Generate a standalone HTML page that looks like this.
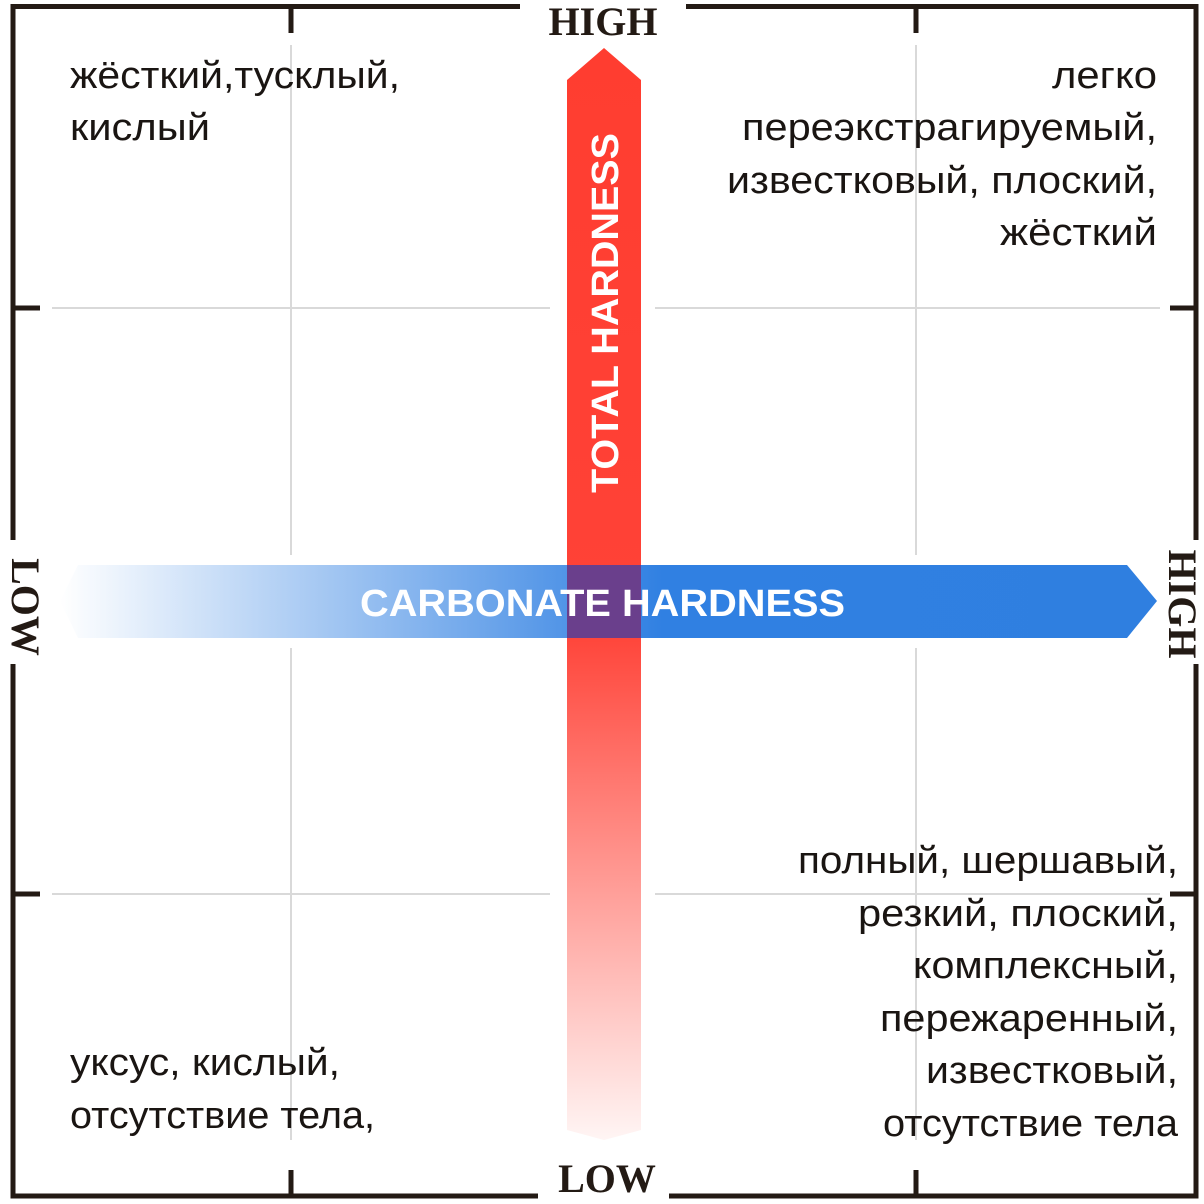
<!DOCTYPE html>
<html><head><meta charset="utf-8"><style>
html,body{margin:0;padding:0;background:#fff;}
svg{display:block;}
.t{font-family:"Liberation Sans",sans-serif;font-size:38px;fill:#1a1512;}
.ax{font-family:"Liberation Serif",serif;font-weight:bold;font-size:40px;fill:#231a14;}
</style></head><body>
<svg width="1204" height="1204" viewBox="0 0 1204 1204">
<defs>
<linearGradient id="red" gradientUnits="userSpaceOnUse" x1="0" y1="48" x2="0" y2="1140">
<stop offset="0" stop-color="#ff3d30"/><stop offset="0.53" stop-color="#ff4237"/><stop offset="1" stop-color="#fff5f4"/>
</linearGradient>
<linearGradient id="blue" gradientUnits="userSpaceOnUse" x1="60" y1="0" x2="1157" y2="0">
<stop offset="0" stop-color="#ffffff"/><stop offset="0.55" stop-color="#3080e2"/><stop offset="1" stop-color="#2f7fe0"/>
</linearGradient>
</defs>
<g stroke="#d9d9d9" stroke-width="2">
<line x1="291" y1="45" x2="291" y2="555"/><line x1="291" y1="648" x2="291" y2="1140"/>
<line x1="916" y1="45" x2="916" y2="555"/><line x1="916" y1="648" x2="916" y2="1140"/>
<line x1="52" y1="308" x2="550" y2="308"/><line x1="655" y1="308" x2="1160" y2="308"/>
<line x1="52" y1="894" x2="550" y2="894"/><line x1="655" y1="894" x2="1160" y2="894"/>
</g>
<g stroke="#231a14" stroke-width="5" fill="none">
<polyline points="520,6.5 13,6.5 13,540"/>
<polyline points="686,6.5 1196,6.5 1196,540"/>
<polyline points="13,664 13,1196 538,1196"/>
<polyline points="669,1196 1196,1196 1196,664"/>
<line x1="291" y1="6" x2="291" y2="33"/><line x1="916" y1="6" x2="916" y2="33"/>
<line x1="291" y1="1170" x2="291" y2="1196"/><line x1="916" y1="1170" x2="916" y2="1196"/>
<line x1="13" y1="308" x2="40" y2="308"/><line x1="13" y1="894" x2="40" y2="894"/>
<line x1="1170" y1="308" x2="1196" y2="308"/><line x1="1170" y1="894" x2="1196" y2="894"/>
</g>
<text class="ax" x="603" y="35" text-anchor="middle">HIGH</text>
<text class="ax" x="607" y="1192" text-anchor="middle">LOW</text>
<text class="ax" transform="translate(12,607) rotate(90)" text-anchor="middle">LOW</text>
<text class="ax" transform="translate(1169,604) rotate(90)" text-anchor="middle">HIGH</text>
<polygon fill="url(#red)" points="567,80 604,48 641,80 641,1130 604,1140 567,1130"/>
<polygon fill="url(#blue)" points="78,565 1127,565 1157,601 1127,638 78,638 60,601"/>
<rect x="567" y="565" width="74" height="73" fill="#6a3f8c"/>
<text transform="translate(618,493) rotate(-90)" textLength="360" lengthAdjust="spacingAndGlyphs" font-family="Liberation Sans,sans-serif" font-weight="bold" font-size="38" fill="#fff">TOTAL HARDNESS</text>
<text x="360" y="616" textLength="485" lengthAdjust="spacingAndGlyphs" font-family="Liberation Sans,sans-serif" font-weight="bold" font-size="38" fill="#fff">CARBONATE HARDNESS</text>
<g>
<text class="t" x="70" y="88" textLength="330" lengthAdjust="spacingAndGlyphs">жёсткий,тусклый,</text>
<text class="t" x="70" y="140" textLength="140" lengthAdjust="spacingAndGlyphs">кислый</text>
</g>
<g>
<text class="t" x="1052" y="88" textLength="105" lengthAdjust="spacingAndGlyphs">легко</text>
<text class="t" x="742" y="140" textLength="415" lengthAdjust="spacingAndGlyphs">переэкстрагируемый,</text>
<text class="t" x="727" y="193" textLength="430" lengthAdjust="spacingAndGlyphs">известковый, плоский,</text>
<text class="t" x="1000" y="245" textLength="157" lengthAdjust="spacingAndGlyphs">жёсткий</text>
</g>
<g>
<text class="t" x="70" y="1075" textLength="270" lengthAdjust="spacingAndGlyphs">уксус, кислый,</text>
<text class="t" x="70" y="1128" textLength="305" lengthAdjust="spacingAndGlyphs">отсутствие тела,</text>
</g>
<g>
<text class="t" x="798" y="873" textLength="380" lengthAdjust="spacingAndGlyphs">полный, шершавый,</text>
<text class="t" x="858" y="926" textLength="320" lengthAdjust="spacingAndGlyphs">резкий, плоский,</text>
<text class="t" x="913" y="978" textLength="265" lengthAdjust="spacingAndGlyphs">комплексный,</text>
<text class="t" x="880" y="1031" textLength="298" lengthAdjust="spacingAndGlyphs">пережаренный,</text>
<text class="t" x="926" y="1083" textLength="252" lengthAdjust="spacingAndGlyphs">известковый,</text>
<text class="t" x="883" y="1136" textLength="295" lengthAdjust="spacingAndGlyphs">отсутствие тела</text>
</g>
</svg>
</body></html>
